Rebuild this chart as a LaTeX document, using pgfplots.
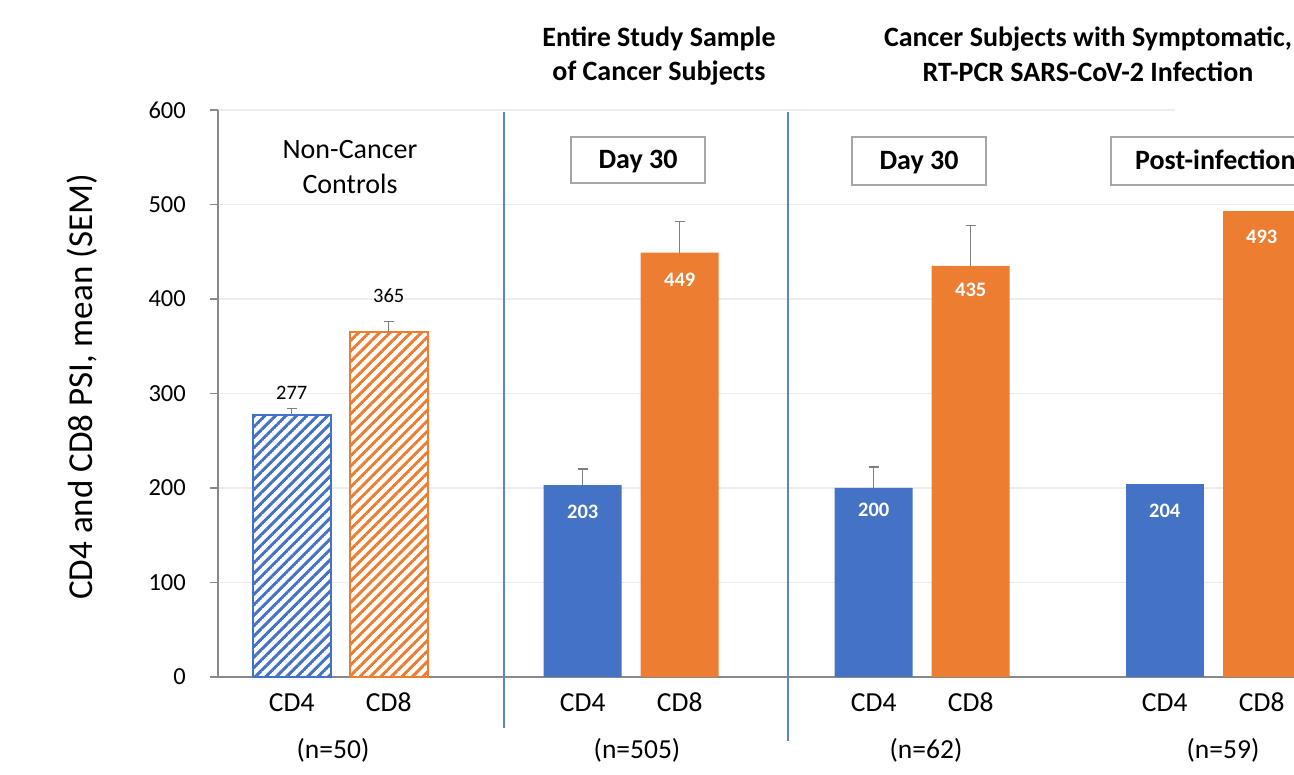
\documentclass[border=0pt]{standalone}
\usepackage{fontspec}
\setmainfont{Carlito}
\usepackage{pgfplots}
\pgfplotsset{compat=1.18}
\usetikzlibrary{patterns.meta}
\definecolor{cdblue}{HTML}{4472C4}
\definecolor{cdorange}{HTML}{ED7D31}
\definecolor{errgray}{HTML}{7F7F7F}
\definecolor{axgray}{HTML}{898989}
\definecolor{gridc}{HTML}{EDEDED}
\definecolor{boxgray}{HTML}{A6A6A6}
\definecolor{sepblue}{HTML}{5B85CF}

\tikzdeclarepattern{
  name=mylines,
  parameters={
      \pgfkeysvalueof{/pgf/pattern keys/size},
      \pgfkeysvalueof{/pgf/pattern keys/angle},
      \pgfkeysvalueof{/pgf/pattern keys/line width},
  },
  bounding box={
    (0,-0.5*\pgfkeysvalueof{/pgf/pattern keys/line width}) and
    (\pgfkeysvalueof{/pgf/pattern keys/size},
     0.5*\pgfkeysvalueof{/pgf/pattern keys/line width})},
  tile size={(\pgfkeysvalueof{/pgf/pattern keys/size},
              \pgfkeysvalueof{/pgf/pattern keys/size})},
  tile transformation={rotate=\pgfkeysvalueof{/pgf/pattern keys/angle}},
  defaults={
    size/.initial=5pt,
    angle/.initial=45,
    line width/.initial=.4pt,
  },
  code={
      \draw [line width=\pgfkeysvalueof{/pgf/pattern keys/line width}]
        (0,0) -- (\pgfkeysvalueof{/pgf/pattern keys/size},0);
  },
}

\newcommand\fs[1]{\fontsize{#1}{#1}\selectfont}

\pgfplotsset{
  eb/.style={
    error bars/.cd,
    y dir=plus, y explicit,
    error bar style={draw=errgray, line width=1.4pt},
    error mark options={draw=errgray, line width=1.4pt, mark size=5pt, rotate=90},
  },
}

\begin{document}
\begin{tikzpicture}
\useasboundingbox (0,0) rectangle (1294pt,775pt);
\clip (0,0) rectangle (1294pt,775pt);
\begin{axis}[
  at={(218pt,98pt)}, anchor=south west,
  x=97pt, y=0.945pt,
  xmin=-0.76, xmax=10.9, ymin=0, ymax=600,
  axis x line*=bottom, axis y line*=left,
  axis line style={axgray, line width=1.3pt},
  ytick={0,100,...,600},
  ymajorgrids, grid style={gridc, line width=1.2pt},
  ytick style={axgray, line width=1.3pt},
  tick align=outside, major tick length=8pt,
  xtick={0,1,3,4,6,7,9,10},
  xticklabels={CD4,CD8,CD4,CD8,CD4,CD8,CD4,CD8},
  xtick style={draw=none},
  xticklabel style={anchor=base, yshift=-27pt, font=\fs{27.5}},
  yticklabel style={anchor=east, inner sep=0pt, xshift=-24pt, font=\fs{24.5}},
  /pgf/number format/assume math mode=true,
  clip=false,
  ybar,
  every axis plot/.append style={bar width=78pt, bar shift=0pt},
]
% Non-cancer controls (hatched)
\addplot[fill=white, draw=cdblue, line width=2pt,
  postaction={pattern={mylines[size=7.4pt,line width=3pt]}, pattern color=cdblue}, eb]
  coordinates {(0,277) +- (0,7)};
\addplot[fill=white, draw=cdorange, line width=2pt,
  postaction={pattern={mylines[size=7.4pt,line width=3pt]}, pattern color=cdorange}, eb]
  coordinates {(1,365) +- (0,11)};
% Cancer subjects
\addplot[fill=cdblue, draw=none, eb] coordinates {(3,203) +- (0,17) (6,200) +- (0,22)};
\addplot[fill=cdorange, draw=none, eb] coordinates {(4,449) +- (0,33) (7,435) +- (0,43)};
\addplot[fill=cdblue, draw=none] coordinates {(9,204)};
\addplot[fill=cdorange, draw=none] coordinates {(10,493)};

% value labels
\node[font=\fs{20.5}, yshift=22.7pt] at (axis cs:0,277) {277};
\node[font=\fs{20.5}, yshift=36pt] at (axis cs:1,365) {365};
\node[font=\bfseries\fs{20.5}, text=white, yshift=-27pt] at (axis cs:3,203) {203};
\node[font=\bfseries\fs{20.5}, text=white, yshift=-27pt] at (axis cs:4,449) {449};
\node[font=\bfseries\fs{20.5}, text=white, yshift=-22pt] at (axis cs:6,200) {200};
\node[font=\bfseries\fs{20.5}, text=white, yshift=-24pt] at (axis cs:7,435) {435};
\node[font=\bfseries\fs{20.5}, text=white, yshift=-27pt] at (axis cs:9,204) {204};
\node[font=\bfseries\fs{20.5}, text=white, yshift=-26pt] at (axis cs:10,493) {493};

% separators
\draw[sepblue, line width=1.6pt] (axis cs:2.186,598) -- (axis cs:2.186,-54);
\draw[sepblue, line width=1.6pt] (axis cs:5.117,598) -- (axis cs:5.117,-68);
\end{axis}

% cover end of top gridline
\fill[white] (1175pt,662pt) rectangle (1294pt,668pt);

% y label
\node[rotate=90, font=\fs{35}] at (82pt,388pt) {CD4 and CD8 PSI, mean (SEM)};

% titles
\node[anchor=base, font=\bfseries\fs{28}] at (659pt,728pt) {Entire Study Sample};
\node[anchor=base, font=\bfseries\fs{28}] at (659pt,694pt) {of Cancer Subjects};
\node[anchor=base, font=\bfseries\fs{28}] at (1088pt,728pt) {Cancer Subjects with Symptomatic,};
\node[anchor=base, font=\bfseries\fs{28}] at (1088pt,693pt) {RT-PCR SARS-CoV-2 Infection};
\node[anchor=base, font=\fs{28}] at (350pt,616pt) {Non-Cancer};
\node[anchor=base, font=\fs{28}] at (350pt,581pt) {Controls};

% boxes
\draw[boxgray, line width=1.5pt, fill=white] (571pt,638pt) rectangle (705pt,592pt);
\node[anchor=base, font=\bfseries\fs{28}] at (638pt,606pt) {Day 30};
\draw[boxgray, line width=1.5pt, fill=white] (852pt,638pt) rectangle (986pt,590pt);
\node[anchor=base, font=\bfseries\fs{28}] at (919pt,605pt) {Day 30};
\draw[boxgray, line width=1.5pt, fill=white] (1111pt,638pt) rectangle (1320pt,590pt);
\node[anchor=base west, inner sep=0pt, font=\bfseries\fs{28}] at (1135pt,605pt) {Post-infection};

% n labels
\node[anchor=base, font=\fs{27.5}] at (333pt,16pt) {(n=50)};
\node[anchor=base, font=\fs{27.5}] at (637pt,16pt) {(n=505)};
\node[anchor=base, font=\fs{27.5}] at (926pt,16pt) {(n=62)};
\node[anchor=base, font=\fs{27.5}] at (1223pt,16pt) {(n=59)};
\end{tikzpicture}
\end{document}
